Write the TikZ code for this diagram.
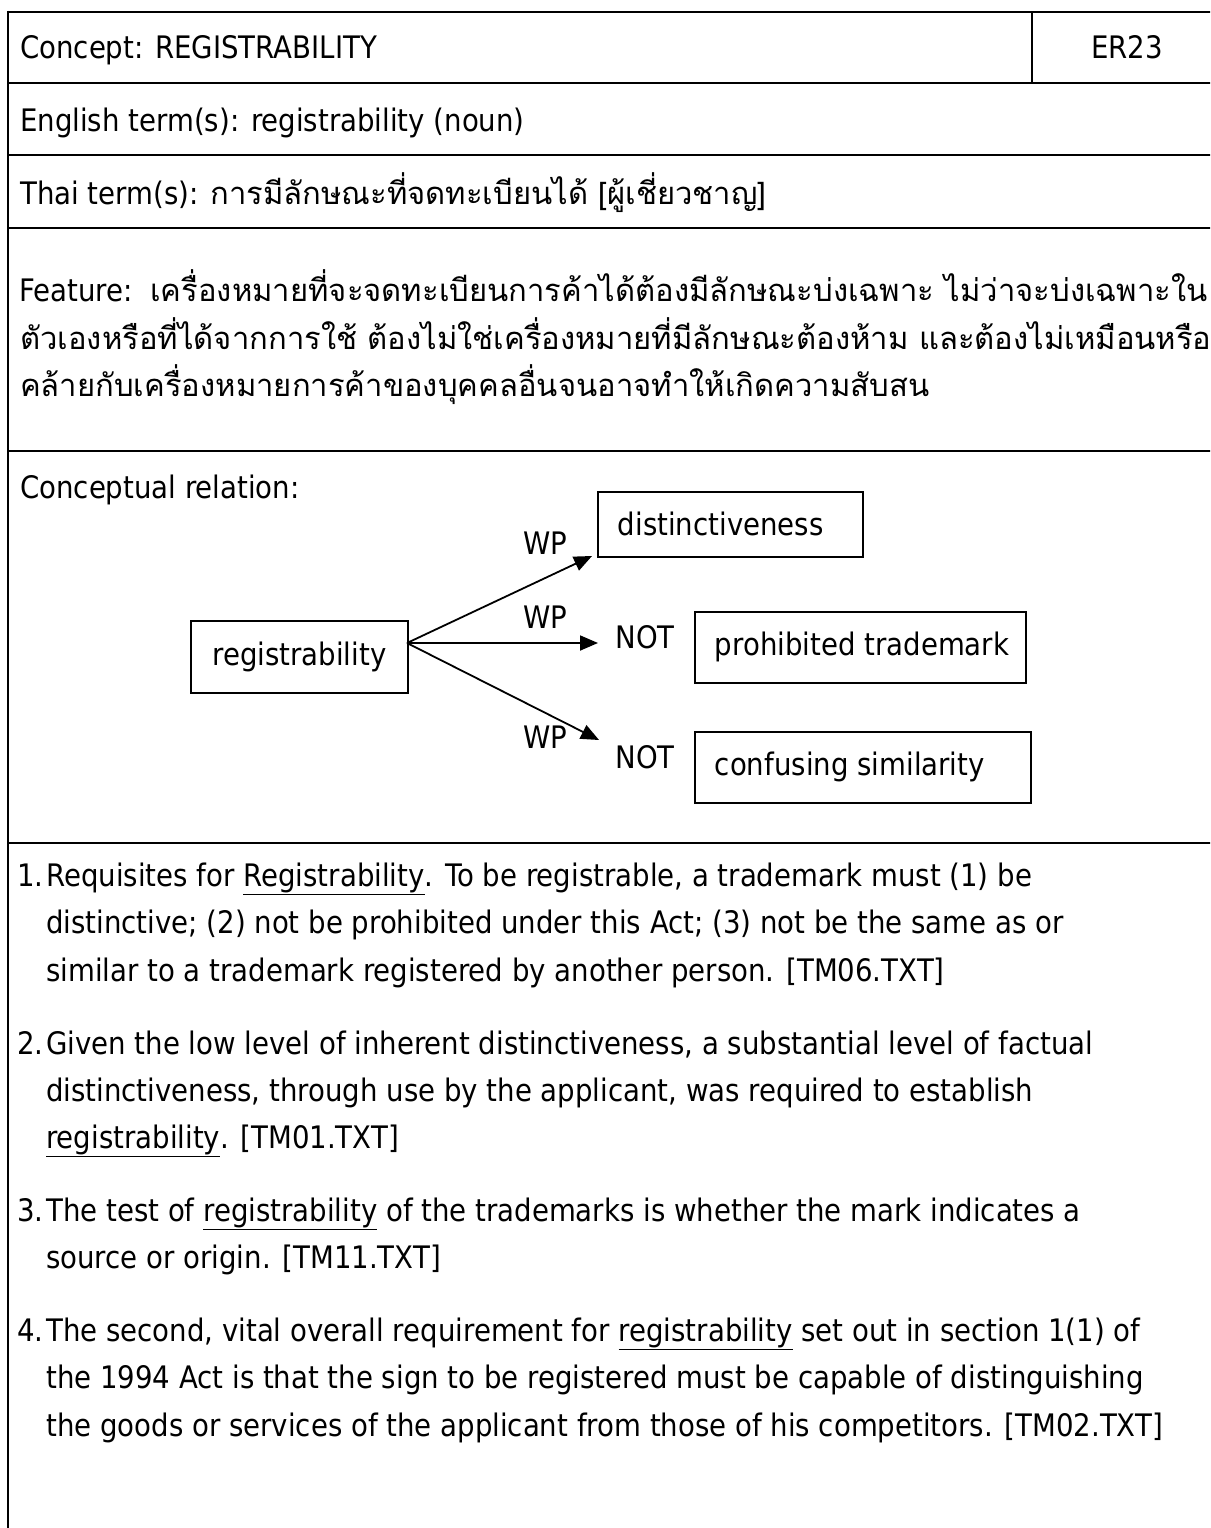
\documentclass[tikz,border=0pt]{standalone}
\usepackage{fontspec}
\setmainfont{DejaVu Sans}[FakeStretch=0.89]
\newfontfamily\thai[Script=Thai]{Loma}
\usetikzlibrary{arrows.meta}

\begin{document}
\begin{tikzpicture}[x=1pt,y=-1pt,
  txt/.style={anchor=base west, inner sep=0pt, font=\fontsize{31}{38}\selectfont},
  rule/.style={line width=2.6pt},
  box/.style={draw, line width=1.8pt, inner xsep=20pt, inner ysep=0pt, anchor=north west,
              font=\fontsize{31}{38}\selectfont},
  lbl/.style={inner sep=0pt, font=\fontsize{31}{38}\selectfont},
  rel/.style={line width=1.8pt, -{Triangle[length=18pt,width=15pt]}}]

\useasboundingbox (0,0) rectangle (1210,1528);
\clip (0,0) rectangle (1210,1528);
\fill[white] (0,0) rectangle (1210,1528);

% table rules
\draw[rule] (8,12) -- (1230,12);
\draw[rule] (8,83) -- (1230,83);
\draw[rule] (8,155) -- (1230,155);
\draw[rule] (8,228) -- (1230,228);
\draw[rule] (8,451) -- (1230,451);
\draw[rule] (8,843) -- (1230,843);
\draw[rule] (8,10.7) -- (8,1540);
\draw[line width=1.5pt] (1032,12) -- (1032,83);

% header rows
\node[txt] (concept) at (20,59) {Concept: REGISTRABILITY};
\node[txt] (code) at (1091,59) {ER23};
\node[txt] (english) at (20,131) {English term(s): registrability (noun)};
\node[txt] (thaiterm) at (20,204) {Thai term(s): {\thai การมีลักษณะที่จดทะเบียนได้ [ผู้เชี่ยวชาญ]}};

% feature
\node[txt] (feat1) at (19,301) {Feature:\ \ {\thai เครื่องหมายที่จะจดทะเบียนการค้าได้ต้องมีลักษณะบ่งเฉพาะ ไม่ว่าจะบ่งเฉพาะใน}};
\node[txt] (feat2) at (20,349) {\thai ตัวเองหรือที่ได้จากการใช้ ต้องไม่ใช่เครื่องหมายที่มีลักษณะต้องห้าม และต้องไม่เหมือนหรือ};
\node[txt] (feat3) at (20,396) {\thai คล้ายกับเครื่องหมายการค้าของบุคคลอื่นจนอาจทำให้เกิดความสับสน};

% conceptual relation
\node[txt] (relhead) at (20,498) {Conceptual relation:};

\node[box, minimum width=217pt, minimum height=72pt] (reg) at (190,620) {registrability};
\node[box, minimum width=265pt, minimum height=65pt] (dist) at (597,491)
  {\makebox[225pt][l]{distinctiveness}};
\node[box, minimum width=331pt, minimum height=71pt] (prohib) at (694,611)
  {\makebox[291pt][l]{prohibited trademark}};
\node[box, minimum width=336pt, minimum height=71pt] (conf) at (694,731)
  {\makebox[296pt][l]{confusing similarity}};

\coordinate (apex) at (407,643);
\coordinate (end1) at (592,556);
\coordinate (end2) at (598,643);
\coordinate (end3) at (599,740);

\draw[rel] (apex) -- (end1);
\draw[rel] (apex) -- (end2);
\draw[rel] (apex) -- (end3);

\node[lbl] (wp1) at (545,543) {WP};
\node[lbl] (wp2) at (545,617) {WP};
\node[lbl] (wp3) at (545,737) {WP};
\node[lbl] (not1) at (645,637) {NOT};
\node[lbl] (not2) at (645,757) {NOT};

% numbered examples
\node[txt] (n1) at (17,886) {1.};
\node[txt] (e1a) at (46,886) {Requisites for \underline{Registrability}. To be registrable, a trademark must (1) be};
\node[txt] (e1b) at (46,933) {distinctive; (2) not be prohibited under this Act; (3) not be the same as or};
\node[txt] (e1c) at (46,981) {similar to a trademark registered by another person. [TM06.TXT]};

\node[txt] (n2) at (17,1054) {2.};
\node[txt] (e2a) at (46,1054) {Given the low level of inherent distinctiveness, a substantial level of factual};
\node[txt] (e2b) at (46,1101) {distinctiveness, through use by the applicant, was required to establish};
\node[txt] (e2c) at (46,1148) {\underline{registrability}. [TM01.TXT]};

\node[txt] (n3) at (17,1221) {3.};
\node[txt] (e3a) at (46,1221) {The test of \underline{registrability} of the trademarks is whether the mark indicates a};
\node[txt] (e3b) at (46,1268) {source or origin. [TM11.TXT]};

\node[txt] (n4) at (17,1341) {4.};
\node[txt] (e4a) at (46,1341) {The second, vital overall requirement for \underline{registrability} set out in section 1(1) of};
\node[txt] (e4b) at (46,1388) {the 1994 Act is that the sign to be registered must be capable of distinguishing};
\node[txt] (e4c) at (46,1436) {the goods or services of the applicant from those of his competitors. [TM02.TXT]};
\end{tikzpicture}
\end{document}
